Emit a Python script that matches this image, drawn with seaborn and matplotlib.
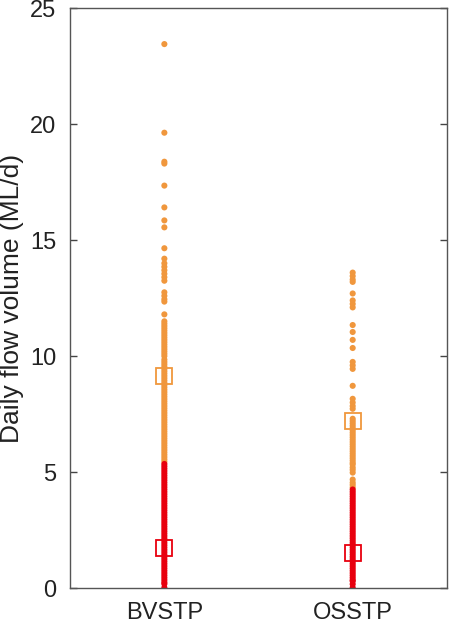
import matplotlib
matplotlib.use("Agg")
import matplotlib.pyplot as plt
import seaborn as sns
import pandas as pd

categories = ["BVSTP", "OSSTP"]

bv_orange = [23.45, 19.63, 18.38, 18.3, 17.35, 16.41, 15.85, 15.55, 14.65, 14.2,
             14.0, 13.85, 13.7, 13.55, 13.4, 13.25, 12.75, 12.6, 12.45, 12.35, 11.8,
             11.5, 11.4, 11.3, 11.2, 11.1, 11.0, 10.9, 10.8, 10.7, 10.6, 10.5, 10.4,
             10.3, 10.2, 10.1, 10.0, 9.85, 9.75, 9.65, 9.55, 9.45, 9.35, 9.25, 9.15,
             9.05, 8.95, 8.85, 8.75, 8.65, 8.55, 8.45, 8.35, 8.25, 8.15, 8.05, 7.95,
             7.85, 7.75, 7.65, 7.55, 7.45, 7.35, 7.25, 7.15, 7.05, 6.95, 6.85, 6.75,
             6.65, 6.55, 6.45, 6.35, 6.25, 6.15, 6.05, 5.95, 5.85, 5.75, 5.65, 5.55,
             5.45]
bv_red = [5.35, 5.25, 5.15, 5.05, 4.95, 4.85, 4.75, 4.65, 4.55, 4.45, 4.35, 4.25,
          4.15, 4.05, 3.95, 3.85, 3.75, 3.65, 3.55, 3.45, 3.35, 3.25, 3.15, 3.05,
          2.95, 2.85, 2.75, 2.65, 2.55, 2.45, 2.35, 2.25, 2.15, 2.05, 1.95, 1.85,
          1.75, 1.65, 1.55, 1.45, 1.35, 1.25, 1.15, 1.05, 0.95, 0.85, 0.75, 0.65,
          0.55, 0.45, 0.35, 0.25, 0.18, 0.02]
os_orange = [13.6, 13.45, 13.3, 13.2, 12.7, 12.4, 12.25, 12.1, 11.34, 11.04, 10.7,
             10.35, 9.75, 9.6, 9.45, 8.72, 8.16, 8.0, 7.85, 7.73, 7.3, 7.2, 7.1, 7.0,
             6.9, 6.8, 6.7, 6.6, 6.5, 6.4, 6.3, 6.2, 6.1, 6.0, 5.9, 5.8, 5.7, 5.6,
             5.5, 5.4, 5.33, 5.2, 5.1, 4.98, 4.68, 4.55, 4.45, 4.34]
os_red = [4.25, 4.15, 4.05, 3.95, 3.85, 3.75, 3.65, 3.55, 3.45, 3.35, 3.25, 3.15,
          3.05, 2.95, 2.85, 2.75, 2.65, 2.55, 2.45, 2.35, 2.25, 2.15, 2.05, 1.95,
          1.85, 1.75, 1.65, 1.55, 1.45, 1.35, 1.25, 1.15, 1.05, 0.95, 0.85, 0.75,
          0.65, 0.55, 0.45, 0.35, 0.3, 0.17, 0.02]

orange_means = [9.15, 7.2]
red_means = [1.72, 1.5]

ORANGE = "#F0973D"
RED = "#E8000E"

rows = []
for v in bv_orange:
    rows.append(("BVSTP", v, "high"))
for v in bv_red:
    rows.append(("BVSTP", v, "low"))
for v in os_orange:
    rows.append(("OSSTP", v, "high"))
for v in os_red:
    rows.append(("OSSTP", v, "low"))
df = pd.DataFrame(rows, columns=["site", "flow", "group"])

sns.set_style("white")
plt.rcParams["font.family"] = ["Liberation Sans", "DejaVu Sans"]

fig = plt.figure(figsize=(4.5, 6.25), dpi=100)
ax = fig.add_axes([0.156, 0.059, 0.837, 0.928])

sns.stripplot(data=df, x="site", y="flow", hue="group", order=categories,
              hue_order=["high", "low"], palette={"high": ORANGE, "low": RED},
              jitter=False, size=4.4, linewidth=0, legend=False, ax=ax, zorder=2)

mean_df = pd.DataFrame({"site": categories * 2,
                        "mean": orange_means + red_means,
                        "group": ["high"] * 2 + ["low"] * 2})
for grp, col in [("high", ORANGE), ("low", RED)]:
    sub = mean_df[mean_df["group"] == grp]
    xs = [categories.index(s) for s in sub["site"]]
    ax.plot(xs, sub["mean"], linestyle="none", marker="s", markersize=11.5,
            markerfacecolor="none", markeredgecolor=col, markeredgewidth=1.3, zorder=3)

ax.set_xlim(-0.5, 1.5)
ax.set_ylim(0, 25)
ax.set_yticks([0, 5, 10, 15, 20, 25])
ax.set_xlabel("")
ax.set_ylabel("Daily flow volume (ML/d)", fontsize=19, color="#222222")
ax.yaxis.set_label_coords(-0.122, 0.5)
ax.tick_params(axis="y", direction="in", length=5, width=1, color="#444444",
               labelsize=17, labelcolor="#222222", right=True, left=True, pad=10)
ax.tick_params(axis="x", length=0, labelsize=17, labelcolor="#222222", pad=10)
for sp in ax.spines.values():
    sp.set_visible(True)
    sp.set_color("#555555")
    sp.set_linewidth(1.0)

fig.savefig("out.png", dpi=100)
